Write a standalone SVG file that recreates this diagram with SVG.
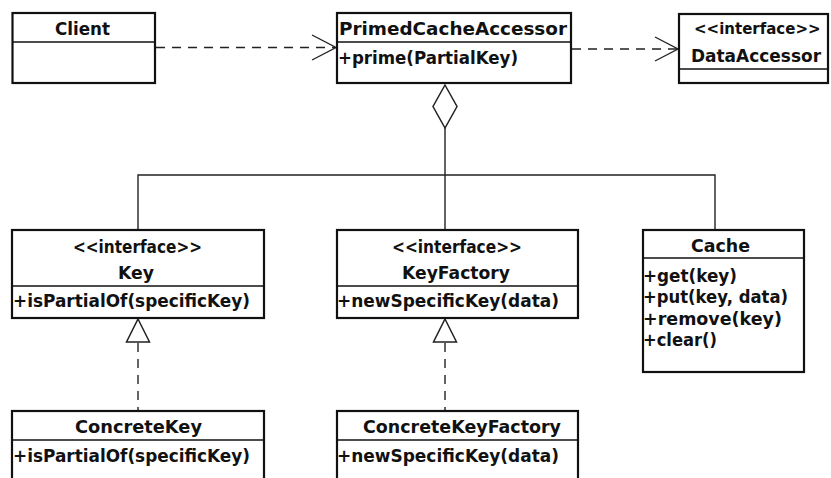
<svg xmlns="http://www.w3.org/2000/svg" width="831" height="478" viewBox="0 0 831 478">
  <style>
    .box { fill: #ffffff; stroke: #111111; stroke-width: 2.2; }
    .div { stroke: #111111; stroke-width: 1.5; fill: none; }
    .t { font-family: "DejaVu Sans", "Liberation Sans", sans-serif; font-weight: bold; font-size: 17px; fill: #111111; }
    .t15 { font-size: 15px; }
    .line { stroke: #222222; stroke-width: 1.4; fill: none; }
    .dash { stroke: #222222; stroke-width: 1.4; fill: none; stroke-dasharray: 9 7; }
    .head { stroke: #222222; stroke-width: 1.4; fill: none; }
    .hollow { stroke: #222222; stroke-width: 1.5; fill: #ffffff; }
  </style>
  <rect width="831" height="478" fill="#ffffff"/>

  <!-- connectors -->
  <g id="connectors">
    <!-- Client uses PrimedCacheAccessor -->
    <line class="dash" x1="156" y1="47.5" x2="335" y2="47.5"/>
    <polyline class="head" points="312,35 336,47.5 312,60"/>
    <!-- PrimedCacheAccessor uses DataAccessor -->
    <line class="dash" x1="572" y1="49" x2="677" y2="49"/>
    <polyline class="head" points="655,37 678,49 655,61"/>
    <!-- aggregation tree -->
    <polygon class="hollow" points="445,85 457,106.5 445,128 433,106.5"/>
    <polyline class="line" points="445,128 445,175"/>
    <polyline class="line" points="138,230 138,175 715,175 715,230"/>
    <line class="line" x1="445" y1="175" x2="445" y2="230"/>
    <!-- realizations -->
    <line class="dash" x1="138" y1="343" x2="138" y2="410"/>
    <polygon class="hollow" points="138,319 149.5,342 126.5,342"/>
    <line class="dash" x1="445" y1="343" x2="445" y2="410"/>
    <polygon class="hollow" points="445,319 456.5,342 433.5,342"/>
  </g>

  <g id="client">
    <rect class="box" x="12.5" y="13" width="142.5" height="70"/>
    <line class="div" x1="12.5" y1="42" x2="155" y2="42"/>
    <text class="t" x="55" y="35" textLength="55" lengthAdjust="spacingAndGlyphs">Client</text>
  </g>

  <g id="primed-cache-accessor">
    <rect class="box" x="337" y="13" width="234" height="70"/>
    <line class="div" x1="337" y1="42" x2="571" y2="42"/>
    <text class="t" x="339" y="35" textLength="228" lengthAdjust="spacingAndGlyphs">PrimedCacheAccessor</text>
    <text class="t" x="338" y="64" textLength="180" lengthAdjust="spacingAndGlyphs">+prime(PartialKey)</text>
  </g>

  <g id="data-accessor">
    <rect class="box" x="679" y="14" width="149" height="69"/>
    <line class="div" x1="679" y1="69" x2="828" y2="69"/>
    <text class="t t15" x="694" y="34">&lt;&lt;interface&gt;&gt;</text>
    <text class="t" x="691" y="62" textLength="130" lengthAdjust="spacingAndGlyphs">DataAccessor</text>
  </g>

  <g id="key">
    <rect class="box" x="12" y="230" width="252" height="88"/>
    <line class="div" x1="12" y1="286" x2="264" y2="286"/>
    <text class="t" x="73" y="253" textLength="129" lengthAdjust="spacingAndGlyphs">&lt;&lt;interface&gt;&gt;</text>
    <text class="t" x="118" y="279" textLength="36" lengthAdjust="spacingAndGlyphs">Key</text>
    <text class="t" x="13" y="307" textLength="237" lengthAdjust="spacingAndGlyphs">+isPartialOf(specificKey)</text>
  </g>

  <g id="key-factory">
    <rect class="box" x="337" y="230" width="241" height="88"/>
    <line class="div" x1="337" y1="286" x2="578" y2="286"/>
    <text class="t" x="392" y="253" textLength="130" lengthAdjust="spacingAndGlyphs">&lt;&lt;interface&gt;&gt;</text>
    <text class="t" x="402" y="279" textLength="108" lengthAdjust="spacingAndGlyphs">KeyFactory</text>
    <text class="t" x="337" y="307" textLength="222" lengthAdjust="spacingAndGlyphs">+newSpecificKey(data)</text>
  </g>

  <g id="cache">
    <rect class="box" x="643" y="230" width="161" height="142"/>
    <line class="div" x1="643" y1="258" x2="804" y2="258"/>
    <text class="t" x="691" y="252" textLength="59" lengthAdjust="spacingAndGlyphs">Cache</text>
    <text class="t" x="643" y="282" textLength="94" lengthAdjust="spacingAndGlyphs">+get(key)</text>
    <text class="t" x="643" y="303" textLength="145" lengthAdjust="spacingAndGlyphs">+put(key, data)</text>
    <text class="t" x="643" y="324.5" textLength="139" lengthAdjust="spacingAndGlyphs">+remove(key)</text>
    <text class="t" x="643" y="346" textLength="74" lengthAdjust="spacingAndGlyphs">+clear()</text>
  </g>

  <g id="concrete-key">
    <rect class="box" x="12" y="411" width="252" height="90"/>
    <line class="div" x1="12" y1="440" x2="264" y2="440"/>
    <text class="t" x="75" y="433" textLength="127" lengthAdjust="spacingAndGlyphs">ConcreteKey</text>
    <text class="t" x="13" y="462" textLength="237" lengthAdjust="spacingAndGlyphs">+isPartialOf(specificKey)</text>
  </g>

  <g id="concrete-key-factory">
    <rect class="box" x="337" y="411" width="241" height="90"/>
    <line class="div" x1="337" y1="440" x2="578" y2="440"/>
    <text class="t" x="363" y="433" textLength="198" lengthAdjust="spacingAndGlyphs">ConcreteKeyFactory</text>
    <text class="t" x="337" y="462" textLength="222" lengthAdjust="spacingAndGlyphs">+newSpecificKey(data)</text>
  </g>
</svg>
